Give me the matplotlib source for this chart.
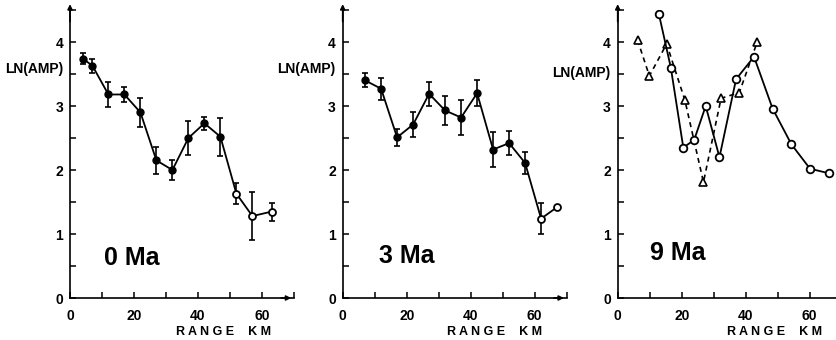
import numpy as np
import matplotlib
matplotlib.use("Agg")
import matplotlib.pyplot as plt
from matplotlib.ticker import MultipleLocator, FixedLocator

plt.rcParams['font.family'] = ['Liberation Sans', 'DejaVu Sans']
plt.rcParams['font.weight'] = 'bold'

# 0 Ma
range_0 = [4, 7, 12, 17, 22, 27, 32, 37, 42, 47, 52, 57, 63]
amp_0 = [3.74, 3.63, 3.18, 3.18, 2.90, 2.15, 2.00, 2.50, 2.73, 2.52, 1.63, 1.28, 1.35]
err_0 = [0.09, 0.11, 0.20, 0.12, 0.23, 0.21, 0.15, 0.26, 0.10, 0.30, 0.16, 0.37, 0.14]
open_0 = [False] * 10 + [True] * 3

# 3 Ma
range_3 = [7, 12, 17, 22, 27, 32, 37, 42, 47, 52, 57, 62, 67]
amp_3 = [3.40, 3.27, 2.51, 2.71, 3.19, 2.93, 2.82, 3.20, 2.32, 2.42, 2.11, 1.24, 1.42]
err_3 = [0.11, 0.17, 0.13, 0.20, 0.19, 0.22, 0.27, 0.20, 0.27, 0.19, 0.17, 0.24, 0.0]
open_3 = [False] * 11 + [True] * 2

# 9 Ma, two profiles
range_9a = [12.9, 16.6, 20.5, 23.9, 27.5, 31.8, 37.0, 42.6, 48.4, 54.3, 60.1, 65.9]
amp_9a = [4.43, 3.60, 2.35, 2.47, 3.00, 2.20, 3.42, 3.77, 2.96, 2.40, 2.02, 1.95]
range_9b = [6.2, 9.9, 15.3, 21.0, 26.8, 32.3, 38.0, 43.6]
amp_9b = [4.03, 3.47, 3.97, 3.09, 1.81, 3.12, 3.21, 4.00]

labels = ['0 Ma', '3 Ma', '9 Ma']

fig = plt.figure(figsize=(8.37, 3.4), dpi=100)
lefts = [70 / 837, 342.7 / 837, 617.7 / 837]
xmaxes = [70, 70, 68.5]


def setup(ax, xmax, arrow_x=True):
    ax.set_xlim(0, xmax)
    ax.set_ylim(0, 4.5)
    for s in ['top', 'right']:
        ax.spines[s].set_visible(False)
    for s in ['left', 'bottom']:
        ax.spines[s].set_linewidth(1.2)
    ax.yaxis.set_major_locator(FixedLocator([0, 1, 2, 3, 4]))
    ax.yaxis.set_minor_locator(MultipleLocator(0.5))
    ax.xaxis.set_major_locator(FixedLocator([0, 20, 40, 60]))
    ax.xaxis.set_minor_locator(MultipleLocator(10))
    ax.tick_params(which='both', direction='in', width=1.1, labelsize=10)
    ax.tick_params(which='both', length=4)
    ax.tick_params(axis='y', pad=5)
    ax.tick_params(axis='x', pad=8)
    for t in ax.get_xticklabels() + ax.get_yticklabels():
        t.set_fontweight('bold')
    ax.annotate('', xy=(0, 1.03), xytext=(0, 0.95), xycoords='axes fraction',
                arrowprops=dict(arrowstyle='-|>', color='black', lw=1.2,
                                mutation_scale=7), annotation_clip=False)
    if arrow_x:
        ax.annotate('', xy=(1.0, 0), xytext=(0.93, 0), xycoords='axes fraction',
                    arrowprops=dict(arrowstyle='-|>', color='black', lw=1.2,
                                    mutation_scale=7), annotation_clip=False)


axes = []
for i in range(3):
    w = xmaxes[i] * 3.2 / 837
    ax = fig.add_axes([lefts[i], 42 / 340, w, 288 / 340])
    ax.patch.set_alpha(0)
    setup(ax, xmaxes[i], arrow_x=(i < 2))
    axes.append(ax)

# error-bar panels
for ax, xs, ys, es, op in [(axes[0], range_0, amp_0, err_0, open_0),
                           (axes[1], range_3, amp_3, err_3, open_3)]:
    ax.errorbar(xs, ys, yerr=es, fmt='none', ecolor='black', elinewidth=1.2,
                capsize=2.5, capthick=1.2, zorder=2)
    ax.plot(xs, ys, '-', color='black', lw=1.3, zorder=3)
    xs = np.array(xs)
    ys = np.array(ys)
    op = np.array(op)
    ax.plot(xs[~op], ys[~op], 'o', color='black', ms=5, zorder=4)
    ax.plot(xs[op], ys[op], 'o', mfc='white', mec='black', mew=1.3, ms=5, zorder=4)

ax = axes[2]
ax.plot(range_9b, amp_9b, '--', color='black', lw=1.2, dashes=(3, 2.5),
        marker='^', mfc='white', mec='black', mew=1.2, ms=6, zorder=3)
ax.plot(range_9a, amp_9a, '-', color='black', lw=1.3,
        marker='o', mfc='white', mec='black', mew=1.3, ms=5.5, zorder=4)

ma_pos = [(19.4, 0.62), (20, 0.66), (18.8, 0.7)]
lnamp_y = [3.58, 3.58, 3.52]
range_x = [48, 47.5, 49]
for i, ax in enumerate(axes):
    ax.text(ma_pos[i][0], ma_pos[i][1], labels[i], fontsize=18, fontweight='bold',
            family=['Liberation Sans Narrow', 'Liberation Sans', 'DejaVu Sans'],
            ha='center', va='center')
    ax.text(-2.2, lnamp_y[i], 'LN(AMP)', fontsize=10, fontweight='bold',
            ha='right', va='center')
    ax.text(range_x[i], -0.53, 'R A N G E    K M', fontsize=9, fontweight='bold',
            ha='center', va='center')

fig.savefig('out.png', dpi=100)
